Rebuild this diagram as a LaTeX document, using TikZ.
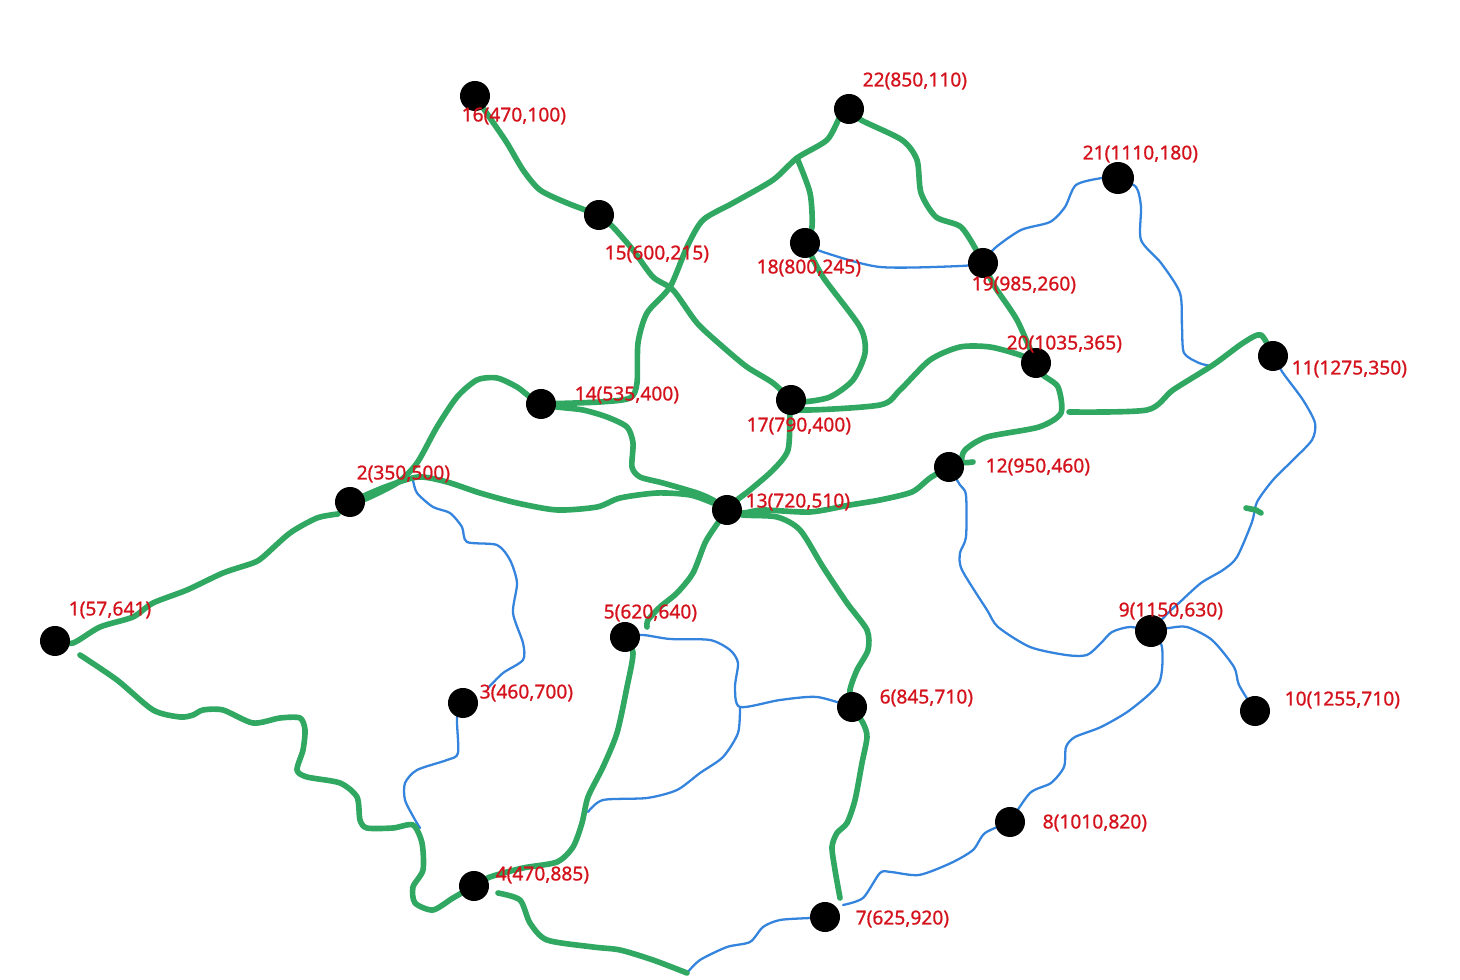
\documentclass[tikz,border=0pt]{standalone}
\usepackage{fontspec}
\setmainfont{Noto Sans}
\newfontfamily\labfont[FakeBold=0.9]{Noto Sans}
\usetikzlibrary{backgrounds}
\definecolor{rgreen}{RGB}{48,168,98}
\definecolor{rblue}{RGB}{52,132,222}
\definecolor{lred}{RGB}{212,18,28}
\tikzset{
  dot/.style={circle,fill=black,inner sep=0pt,minimum size=0.30cm},
  lab/.style={anchor=west,inner sep=0pt,text=lred,font=\labfont\fontsize{5.45pt}{6.5pt}\selectfont},
  groad/.style={draw=rgreen,line width=1.6pt,line cap=round,line join=round},
  broad/.style={draw=rblue,line width=0.65pt,line cap=round,line join=round},
  sm/.style={smooth,tension=0.45}
}
\begin{document}
\begin{tikzpicture}[x=0.01cm,y=-0.01cm]
\useasboundingbox (0,0) rectangle (1460,980);
% nodes
\node[dot] (n1) at (55,641) {};
\node[dot] (n2) at (350,502) {};
\node[dot] (n3) at (463,703) {};
\node[dot] (n4) at (474,886) {};
\node[dot] (n5) at (625,637) {};
\node[dot] (n6) at (852,707) {};
\node[dot] (n7) at (825,917) {};
\node[dot] (n8) at (1010,822) {};
\node[dot,minimum size=0.32cm] (n9) at (1151,631) {};
\node[dot] (n10) at (1255,711) {};
\node[dot] (n11) at (1273,356) {};
\node[dot] (n12) at (949,467) {};
\node[dot] (n13) at (727,510) {};
\node[dot] (n14) at (541,404) {};
\node[dot] (n15) at (599,215) {};
\node[dot] (n16) at (475,96) {};
\node[dot] (n17) at (791,400) {};
\node[dot] (n18) at (805,243) {};
\node[dot] (n19) at (983,263) {};
\node[dot] (n20) at (1036,363) {};
\node[dot,minimum size=0.32cm] (n21) at (1118,178) {};
\node[dot] (n22) at (849,109) {};
% free ends
\coordinate (e5) at (647,627);
\coordinate (e7) at (840,898);
\coordinate (e11) at (1069,412);
\coordinate (e4) at (498,893);
\coordinate (m47) at (687,973);
\coordinate (e2) at (413,480);
\coordinate (e3) at (488,688);
\coordinate (e3b) at (420,828);
\coordinate (e56) at (740,707);
\coordinate (e54) at (588,812);
\coordinate (e21) at (1211,366);
\coordinate (e8) at (843,905);
\coordinate (e1) at (338,514);
\coordinate (e1b) at (80,655);
\coordinate (t1) at (1246,508);
\coordinate (t2) at (1261,513);
\coordinate (e12) at (973,462);
% labels
\node[lab] (l1) at (68,610) {1(57,641)};
\node[lab] (l2) at (356,474) {2(350,500)};
\node[lab] (l3) at (479,693) {3(460,700)};
\node[lab] (l4) at (495,875) {4(470,885)};
\node[lab] (l5) at (603,613) {5(620,640)};
\node[lab] (l6) at (879,698) {6(845,710)};
\node[lab] (l7) at (855,919) {7(625,920)};
\node[lab] (l8) at (1042,823) {8(1010,820)};
\node[lab] (l9) at (1118,611) {9(1150,630)};
\node[lab] (l10) at (1284,700) {10(1255,710)};
\node[lab] (l11) at (1291,369) {11(1275,350)};
\node[lab] (l12) at (985,467) {12(950,460)};
\node[lab] (l13) at (745,502) {13(720,510)};
\node[lab] (l14) at (574,395) {14(535,400)};
\node[lab] (l15) at (604,254) {15(600,215)};
\node[lab] (l16) at (461,116) {16(470,100)};
\node[lab] (l17) at (746,426) {17(790,400)};
\node[lab] (l18) at (756,268) {18(800,245)};
\node[lab] (l19) at (971,285) {19(985,260)};
\node[lab] (l20) at (1006,344) {20(1035,365)};
\node[lab] (l21) at (1082,154) {21(1110,180)};
\node[lab] (l22) at (862,81) {22(850,110)};
\begin{scope}[on background layer]
% blue roads
\draw[broad] plot[sm] coordinates {(e2) (417,493) (433,507) (450,513) (462,527) (467,542) (497,545) (510,560) (517,583) (513,613) (523,643) (523,660) (503,673) (e3)};
\draw[broad] plot[sm] coordinates {(n3) (457,717) (458,753) (447,760) (417,770) (405,783) (405,800) (414,818) (e3b)};
\draw[broad] plot[sm] coordinates {(n5) (643,635) (670,639) (710,640) (730,650) (738,663) (735,687) (e56) (780,700) (817,697) (n6)};
\draw[broad] plot[sm] coordinates {(e56) (738,733) (723,757) (700,773) (677,790) (647,798) (603,800) (e54)};
\draw[broad] plot[sm] coordinates {(n18) (823,252) (880,267) (961,266) (n19)};
\draw[broad] plot[sm] coordinates {(n19) (995,248) (1021,230) (1050,222) (1065,207) (1076,185) (1102,178) (n21)};
\draw[broad] plot[sm] coordinates {(n21) (1136,187) (1141,207) (1141,240) (1161,263) (1180,293) (1182,327) (1184,353) (1199,363) (e21)};
\draw[broad] plot[sm] coordinates {(n11) (1283,373) (1303,400) (1315,423) (1312,440) (1293,460) (1273,480) (1257,502) (1252,522) (1237,557) (1223,570) (1201,583) (1180,602) (1169,612) (n9)};
\draw[broad] plot[sm] coordinates {(n12) (960,485) (966,495) (966,537) (960,553) (962,570) (987,610) (998,627) (1030,647) (1066,655) (1087,655) (1101,643) (1112,632) (1130,627) (n9)};
\draw[broad] plot[sm] coordinates {(n9) (1169,628) (1187,627) (1212,640) (1234,667) (1239,685) (n10)};
\draw[broad] plot[sm] coordinates {(n9) (1162,647) (1159,683) (1130,710) (1101,727) (1075,737) (1066,747) (1064,767) (1051,783) (1030,793) (n8)};
\draw[broad] plot[sm] coordinates {(n8) (985,833) (973,850) (951,863) (919,875) (891,872) (880,873) (863,898) (e8)};
\draw[broad] plot[sm] coordinates {(n7) (810,918) (780,920) (763,927) (750,942) (727,947) (700,960) (m47)};
% green roads
\draw[groad] plot[sm] coordinates {(n1) (73,643) (100,627) (133,617) (153,603) (187,590) (223,573) (253,563) (263,557) (290,533) (317,518) (e1)};
\draw[groad] plot[sm] coordinates {(e1b) (117,680) (153,710) (180,717) (193,715) (203,710) (223,710) (253,723) (280,718) (300,718) (305,730) (303,750) (297,770) (307,777) (340,783) (357,797) (360,820) (367,828) (393,828) (413,825) (422,843) (423,870) (413,887) (415,903) (433,910) (453,898) (n4)};
\draw[groad] plot[sm] coordinates {(n2) (363,500) (397,483) (417,463) (437,427) (457,397) (477,380) (497,378) (517,387) (530,397) (n14)};
\draw[groad] plot[sm] coordinates {(n2) (385,487) (418,477) (447,482) (480,493) (517,503) (557,510) (597,507) (620,498) (657,493) (690,495) (713,503) (n13)};
\draw[groad] plot[sm] coordinates {(n14) (557,407) (583,410) (607,417) (627,427) (633,443) (632,467) (640,477) (663,483) (697,493) (713,500) (n13)};
\draw[groad] plot[sm] coordinates {(n14) (600,402) (630,398) (637,383) (638,343) (647,313) (670,287) (687,247) (703,220) (733,203) (773,180) (797,158) (827,140) (840,117) (n22)};
\draw[groad] plot[sm] coordinates {(797,158) (810,193) (812,227) (n18)};
\draw[groad] plot[sm] coordinates {(n16) (490,118) (507,143) (523,170) (540,190) (567,203) (n15)};
\draw[groad] plot[sm] coordinates {(n15) (613,227) (633,250) (653,277) (673,290) (697,323) (723,347) (747,367) (773,383) (n17)};
\draw[groad] plot[sm] coordinates {(n18) (823,277) (860,327) (865,353) (853,380) (830,397) (803,402) (n17)};
\draw[groad] plot[sm] coordinates {(n22) (861,120) (902,140) (917,160) (921,193) (936,217) (961,227) (978,253) (n19)};
\draw[groad] plot[sm] coordinates {(n19) (995,287) (1017,320) (n20)};
\draw[groad] plot[sm] coordinates {(n17) (800,410) (880,405) (900,390) (930,360) (960,347) (990,347) (1020,355) (n20)};
\draw[groad] plot[sm] coordinates {(n20) (1043,375) (1058,387) (1061,413) (1039,427) (987,437) (965,450) (962,462) (e12)};
\draw[groad] plot[sm] coordinates {(e11) (1147,410) (1173,390) (1213,365) (1243,343) (1261,335) (n11)};
\draw[groad] plot[sm] coordinates {(n13) (743,513) (763,510) (810,512) (850,505) (880,500) (912,492) (930,478) (n12)};
\draw[groad] plot[sm] coordinates {(n13) (737,500) (750,490) (773,470) (788,450) (790,413) (n17)};
\draw[groad] plot[sm] coordinates {(n13) (715,527) (705,543) (693,573) (677,593) (660,607) (648,620) (e5)};
\draw[groad] plot[sm] coordinates {(n5) (633,653) (627,687) (617,733) (603,767) (588,797) (582,823) (573,847) (557,862) (523,868) (490,877) (n4)};
\draw[groad] plot[sm] coordinates {(n13) (743,515) (777,517) (800,530) (823,567) (847,603) (867,630) (868,650) (857,670) (850,690) (n6)};
\draw[groad] plot[sm] coordinates {(n6) (863,723) (867,737) (862,763) (855,800) (847,823) (837,833) (832,847) (835,870) (e7)};
\draw[groad] plot[sm] coordinates {(e4) (520,900) (530,923) (547,940) (593,947) (620,950) (653,960) (m47)};
\draw[groad] (t1) -- (1256,510) -- (t2);
\end{scope}
\end{tikzpicture}
\end{document}
